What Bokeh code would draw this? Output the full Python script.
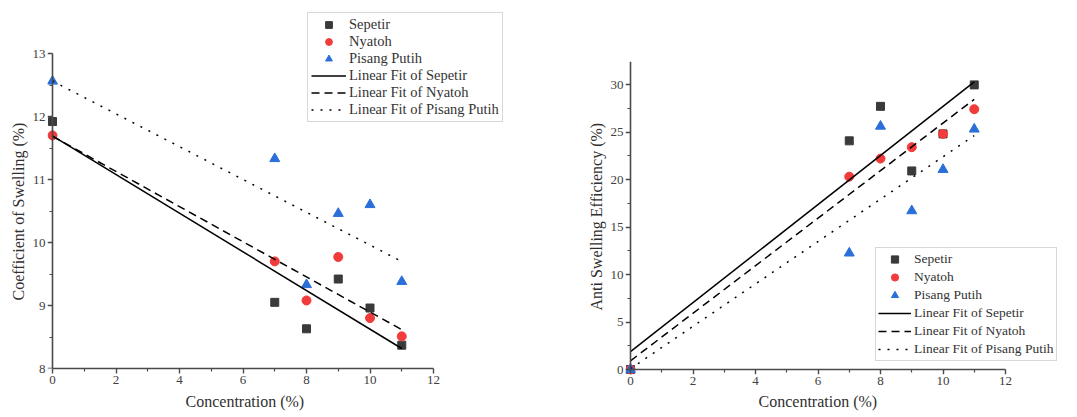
import numpy as np
from bokeh.plotting import figure
from bokeh.layouts import row
from bokeh.models import Legend, LegendItem, FixedTicker, LinearAxis, Title
from bokeh.embed import file_html
from bokeh.resources import INLINE

# ---- data ----
conc = [0, 7, 8, 9, 10, 11]
swell_sepetir = [11.92, 9.05, 8.63, 9.42, 8.96, 8.37]
swell_nyatoh = [11.70, 9.70, 9.08, 9.77, 8.80, 8.51]
swell_pisang = [12.56, 11.33, 9.33, 10.46, 10.60, 9.38]
ase_sepetir = [0, 24.07, 27.7, 20.9, 24.8, 29.96]
ase_nyatoh = [0, 20.3, 22.2, 23.4, 24.8, 27.4]
ase_pisang = [0, 12.25, 25.6, 16.7, 21.05, 25.3]
series_names = ["Sepetir", "Nyatoh", "Pisang Putih"]
x_title = "Concentration (%)"
y_titles = ["Coefficient of Swelling (%)", "Anti Swelling Efficiency (%)"]
x_ticks = [0, 2, 4, 6, 8, 10, 12]
x_minor = [1, 3, 5, 7, 9, 11]
swell_ticks = [8, 9, 10, 11, 12, 13]
swell_minor = [8.5, 9.5, 10.5, 11.5, 12.5]
ase_ticks = [0, 5, 10, 15, 20, 25, 30]
ase_minor = [2.5, 7.5, 12.5, 17.5, 22.5, 27.5, 32.5]

FONT = "Liberation Serif"
AXC = "#4a4a4a"
COLORS = ["#3a3a3a", "#f23b3b", "#2a6fd8"]
MARKERS = ["square", "circle", "triangle"]
SIZES = [8, 9, 10]
DASHES = ["solid", "8 5", "2 7"]


def style_labels(ax, tick_out):
    ax.axis_label = None
    ax.major_label_text_font = FONT
    ax.major_label_text_font_size = "13px"
    ax.major_label_text_color = "#404040"
    ax.major_tick_in = 0
    ax.minor_tick_in = 0
    ax.major_tick_out = tick_out
    ax.minor_tick_out = 3 if tick_out else 0
    ax.major_tick_line_color = AXC if tick_out else None
    ax.minor_tick_line_color = AXC if tick_out else None
    ax.major_tick_line_width = 1.4
    ax.minor_tick_line_width = 1.2
    ax.axis_line_color = AXC if tick_out else None
    ax.axis_line_width = 1.6
    ax.major_label_standoff = 2


def line_axis(p, side, loc, ticks, minor, bounds):
    """Axis line with outward ticks drawn at a data location (labels come
    from the normal axis)."""
    for pos, length, draw_line in ((ticks, 5, True), (minor, 3, False)):
        ax = LinearAxis(ticker=FixedTicker(ticks=[], minor_ticks=pos),
                        fixed_location=loc, bounds=bounds,
                        major_tick_in=0, major_tick_out=0,
                        minor_tick_in=-length, minor_tick_out=0,
                        major_label_standoff=0, axis_label=None,
                        axis_label_standoff=0,
                        axis_line_color=AXC if draw_line else None,
                        axis_line_width=1.6,
                        major_tick_line_color=None,
                        minor_tick_line_color=AXC,
                        minor_tick_line_width=1.4 if draw_line else 1.2)
        p.add_layout(ax, side)


def add_title(p, text, side, offset, standoff):
    t = Title(text=text, align="left", offset=offset, standoff=standoff,
              vertical_align="bottom", text_font=FONT, text_font_size="16px",
              text_font_style="normal", text_color="#303030")
    p.add_layout(t, side)


def make_fig(width, xr, yr, yticks, yminor, borders):
    left, right, top, bottom = borders
    p = figure(width=width, height=417, x_range=xr, y_range=yr, title=None,
               output_backend="svg", toolbar_location=None,
               min_border_left=left, min_border_right=right,
               min_border_top=top, min_border_bottom=bottom)
    p.frame_align = False
    p.outline_line_color = None
    p.grid.visible = False
    p.background_fill_color = "white"
    p.border_fill_color = "white"
    p.xaxis.ticker = FixedTicker(ticks=x_ticks, minor_ticks=x_minor)
    p.yaxis.ticker = FixedTicker(ticks=yticks, minor_ticks=yminor)
    return p


def add_series(p, ydata, legend_loc, cfg):
    scatter_items = []
    line_items = []
    for name, ys, c, m, s in zip(series_names, ydata, COLORS, MARKERS, SIZES):
        r = p.scatter(conc, ys, marker=m, size=s, fill_color=c, line_color=c)
        scatter_items.append(LegendItem(label=name, renderers=[r]))
    for name, ys, d in zip(series_names, ydata, DASHES):
        k, b = np.polyfit(conc, ys, 1)
        xs = [conc[0], conc[-1]]
        r = p.line(xs, [k * x + b for x in xs], line_color="black",
                   line_width=1.5, line_dash=d)
        line_items.append(LegendItem(label="Linear Fit of " + name, renderers=[r]))
    legend = Legend(items=scatter_items + line_items, location=legend_loc,
                    label_text_font=FONT, label_text_font_size=cfg["fs"],
                    label_text_color="#333333",
                    glyph_width=cfg["gw"], glyph_height=cfg["lh"],
                    label_height=cfg["lh"],
                    label_standoff=cfg["so"], padding=cfg["pad"], spacing=0,
                    margin=0, border_line_color="#b0b0b0", border_line_width=1,
                    background_fill_color="white", background_fill_alpha=1)
    p.add_layout(legend, "center")


# ---- left panel: coefficient of swelling ----
sx1 = 31.75
sy1 = 63.0
p1 = make_fig(540, (-5 / sx1, 460 / sx1), (8, 8 + 359 / sy1),
              swell_ticks, swell_minor, (47, 28, 9, 49))
style_labels(p1.xaxis[0], 5)
p1.xaxis.bounds = (0, 12)
style_labels(p1.yaxis[0], 0)
line_axis(p1, "left", 0, swell_ticks, swell_minor, (8, 13))
add_title(p1, y_titles[0], "left", 68, 6)
add_title(p1, x_title, "below", 138, 8)
add_series(p1, [swell_sepetir, swell_nyatoh, swell_pisang], (260, 246),
           {"fs": "14.5px", "gw": 35, "so": 3, "pad": 3, "lh": 17})

# ---- right panel: anti swelling efficiency ----
sx2 = 31.25
sy2 = 9.5
p2 = make_fig(537, (-5 / sx2, 432 / sx2), (-5 / sy2, 308 / sy2),
              ase_ticks, ase_minor, (85, 15, 61, 43))
style_labels(p2.xaxis[0], 0)
style_labels(p2.yaxis[0], 0)
line_axis(p2, "left", 0, ase_ticks, ase_minor, (0, 308 / sy2))
line_axis(p2, "below", 0, x_ticks, x_minor, (0, 12))
add_title(p2, y_titles[1], "left", 64, 6)
add_title(p2, x_title, "below", 133, 6)
add_series(p2, [ase_sepetir, ase_nyatoh, ase_pisang], (250, 13),
           {"fs": "13.5px", "gw": 33, "so": 3, "pad": 2, "lh": 18})

layout = row(p1, p2)
open("out.html", "w").write(file_html(layout, INLINE))
